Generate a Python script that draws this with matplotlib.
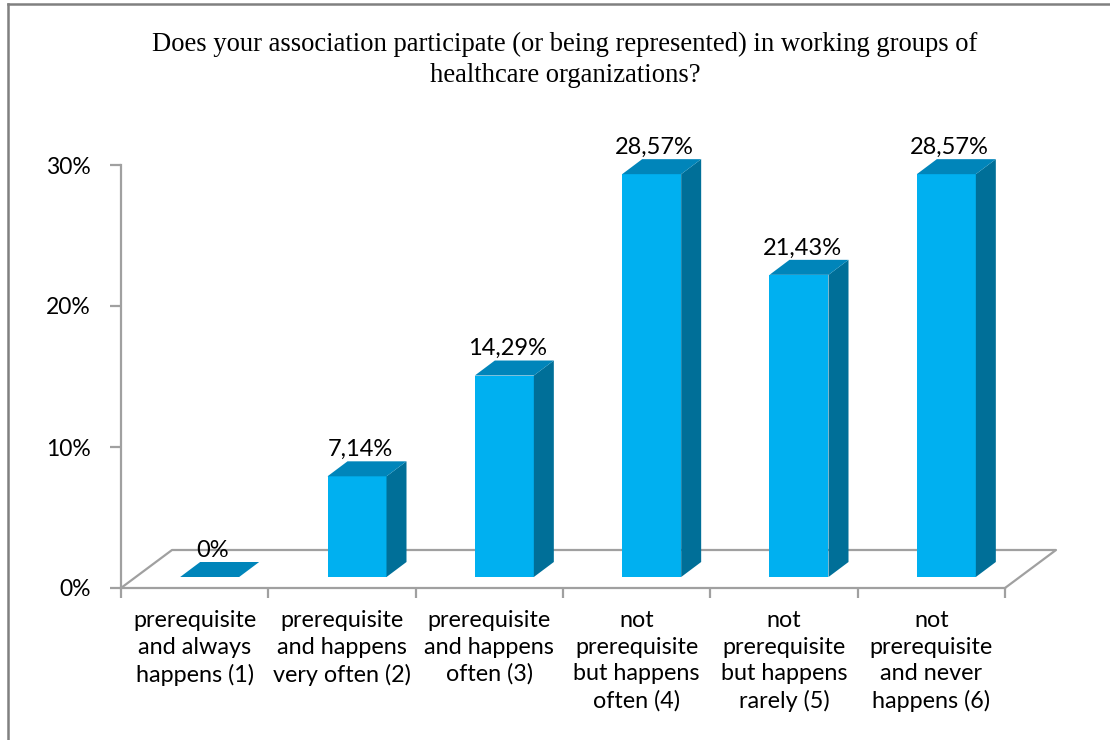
import matplotlib
matplotlib.use("Agg")
import matplotlib.pyplot as plt
from matplotlib.patches import Polygon
from matplotlib.lines import Line2D

# ---- data ----
categories = [
    "prerequisite\nand always\nhappens (1)",
    "prerequisite\nand happens\nvery often (2)",
    "prerequisite\nand happens\noften (3)",
    "not\nprerequisite\nbut happens\noften (4)",
    "not\nprerequisite\nbut happens\nrarely (5)",
    "not\nprerequisite\nand never\nhappens (6)",
]
values = [0.0, 7.14, 14.29, 28.57, 21.43, 28.57]
value_labels = ["0%", "7,14%", "14,29%", "28,57%", "21,43%", "28,57%"]
y_ticks = [0, 10, 20, 30]
y_ticklabels = ["0%", "10%", "20%", "30%"]
title = ("Does your association participate (or being represented) in working groups of\n"
         "healthcare organizations?")

# ---- style ----
W, H = 1110, 740
FRONT = "#00B0F0"
SIDE = "#006F98"
TOP = "#0085BA"
GRID = "#A0A0A0"
sans = ["Lato", "DejaVu Sans"]

fig = plt.figure(figsize=(W / 100, H / 100), dpi=100)
fig.patch.set_facecolor("white")

x0, x1 = 121, 1005
y0, y1 = 588, 165
ax = fig.add_axes([x0 / W, 1 - y0 / H, (x1 - x0) / W, (y0 - y1) / H])
n = len(categories)
ax.set_xlim(-0.5, n - 0.5)
ax.set_ylim(0, 30)
ax.patch.set_alpha(0)

px_x = (x1 - x0) / n          # pixels per category
px_y = (y0 - y1) / 30.0       # pixels per percent

# depth offsets in data units
floor_dx, floor_dy = 51 / px_x, 38 / px_y
front_dx, front_dy = 15 / px_x, 11 / px_y
side_dx, side_dy = 20 / px_x, 15 / px_y
bw = 59 / px_x

# floor edges (left, back, right)
fx = [-0.5, -0.5 + floor_dx, n - 0.5 + floor_dx, n - 0.5]
fy = [0, floor_dy, floor_dy, 0]
ax.add_line(Line2D(fx, fy, color=GRID, lw=1.6, clip_on=False, zorder=1))

# bars
for i, v in enumerate(values):
    l = i - bw / 2 + front_dx
    r = i + bw / 2 + front_dx
    b = front_dy
    t = front_dy + v
    if v > 0:
        ax.add_patch(Polygon([(l, b), (r, b), (r, t), (l, t)], closed=True,
                             facecolor=FRONT, edgecolor="none", zorder=3, clip_on=False))
        ax.add_patch(Polygon([(r, b), (r + side_dx, b + side_dy), (r + side_dx, t + side_dy), (r, t)],
                             closed=True, facecolor=SIDE, edgecolor="none", zorder=3, clip_on=False))
    ax.add_patch(Polygon([(l, t), (r, t), (r + side_dx, t + side_dy), (l + side_dx, t + side_dy)],
                         closed=True, facecolor=TOP, edgecolor="none", zorder=3, clip_on=False))
    ax.text(i + front_dx + side_dx * 0.15, t + side_dy + 0.1, value_labels[i],
            ha="center", va="bottom", fontsize=17, family=sans, color="black", zorder=5)

# axes styling
for s in ["top", "right"]:
    ax.spines[s].set_visible(False)
for s in ["left", "bottom"]:
    ax.spines[s].set_color(GRID)
    ax.spines[s].set_linewidth(1.6)
ax.set_yticks(y_ticks)
ax.set_yticklabels(y_ticklabels, family=sans, fontsize=16.5)
ax.tick_params(axis="y", direction="out", length=8, width=1.6, color=GRID, pad=14)
ax.set_xticks([i - 0.5 for i in range(n + 1)])
ax.set_xticklabels([])
ax.tick_params(axis="x", which="major", direction="out", length=7, width=1.6, color=GRID)
ax.set_xticks(list(range(n)), minor=True)
ax.set_xticklabels(categories, minor=True, family=sans, fontsize=16.8, linespacing=1.32, va="top")
ax.tick_params(axis="x", which="minor", length=0, pad=16)

# title
fig.text(565 / W, 1 - 60 / H, title, ha="center", va="center",
         family=["Liberation Serif", "DejaVu Serif"], fontsize=19.2, linespacing=1.3)

# chart frame (top and left border)
fig.add_artist(Line2D([8 / W, 1], [1 - 4 / H, 1 - 4 / H], transform=fig.transFigure,
                      color="#808080", lw=1.8))
fig.add_artist(Line2D([8 / W, 8 / W], [1 - 4 / H, 0], transform=fig.transFigure,
                      color="#808080", lw=1.8))

fig.savefig("out.png", dpi=100, facecolor="white")
